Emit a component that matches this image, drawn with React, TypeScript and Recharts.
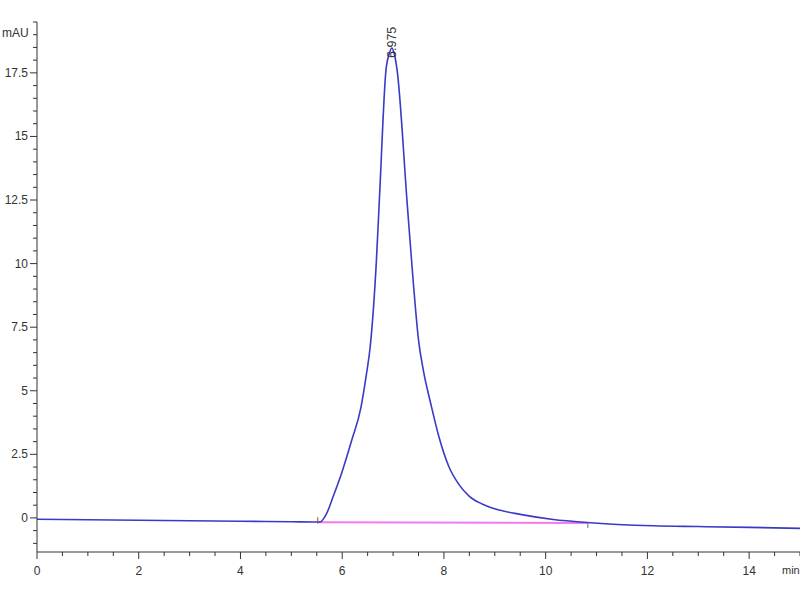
import React from "react";
import { LineChart, Line, XAxis, YAxis, ReferenceLine, ReferenceDot } from "recharts";

// Retention time (min) and absorbance (mAU)
const times = [
  0, 1, 2, 3, 4, 5, 5.5, 5.56, 5.7, 5.82, 5.99, 6.19, 6.37, 6.48, 6.55, 6.67, 6.74, 6.86, 6.93,
  6.975, 7.02, 7.08, 7.28, 7.4, 7.5, 7.6, 7.74, 7.9, 8.1, 8.3, 8.5, 8.75, 9.0, 9.5, 10.15, 10.81,
  12.11, 13, 14, 15,
];
const signal = [
  -0.05, -0.07, -0.09, -0.11, -0.13, -0.15, -0.16, -0.16, 0.2, 0.83, 1.77, 3.07, 4.36, 5.7, 6.72,
  10.03, 12.9, 17.6, 18.28, 18.48, 18.28, 17.6, 12.3, 9.2, 7.0, 5.75, 4.5, 3.2, 2.0, 1.3, 0.85,
  0.55, 0.36, 0.14, -0.06, -0.18, -0.31, -0.34, -0.37, -0.41,
];

// Integration baseline (start / end of the peak)
const baselineStart = { t: 5.52, v: -0.17 };
const baselineEnd = { t: 10.83, v: -0.2 };

const peakTime = 6.975;
const peakHeight = 18.48;
const peakLabel = "6.975";

const xMajorTicks = [0, 2, 4, 6, 8, 10, 12, 14];
const yMajorTicks = [0, 2.5, 5, 7.5, 10, 12.5, 15, 17.5];
const xAllTicks = [
  0, 0.5, 1, 1.5, 2, 2.5, 3, 3.5, 4, 4.5, 5, 5.5, 6, 6.5, 7, 7.5, 8, 8.5, 9, 9.5, 10, 10.5, 11,
  11.5, 12, 12.5, 13, 13.5, 14, 14.5, 15,
];
const yAllTicks = [
  -1, -0.5, 0, 0.5, 1, 1.5, 2, 2.5, 3, 3.5, 4, 4.5, 5, 5.5, 6, 6.5, 7, 7.5, 8, 8.5, 9, 9.5, 10,
  10.5, 11, 11.5, 12, 12.5, 13, 13.5, 14, 14.5, 15, 15.5, 16, 16.5, 17, 17.5, 18, 18.5, 19, 19.5,
];

const data = times.map((t, i) => ({ t, v: signal[i] }));

const FONT = "'Liberation Sans', Arial, sans-serif";
const AXIS = "#333";
const TEXT = "#333";

const isIn = (arr: number[], v: number) => arr.some((a) => Math.abs(a - v) < 1e-6);

const YTick = (props: any) => {
  const { x, y, payload } = props;
  const v = payload.value;
  const major = isIn(yMajorTicks, v);
  return (
    <g>
      <line x1={x - (major ? 7 : 4)} x2={x} y1={y} y2={y} stroke={AXIS} strokeWidth={1} />
      {major && (
        <text x={x - 9} y={y} dy={4} textAnchor="end" fontSize={12} fill={TEXT} fontFamily={FONT}>
          {String(v)}
        </text>
      )}
    </g>
  );
};

const XTick = (props: any) => {
  const { x, y, payload } = props;
  const v = payload.value;
  const major = isIn(xMajorTicks, v);
  return (
    <g>
      <line x1={x} x2={x} y1={y} y2={y + (major ? 7 : 4)} stroke={AXIS} strokeWidth={1} />
      {major && (
        <text x={x} y={y + 23} textAnchor="middle" fontSize={12} fill={TEXT} fontFamily={FONT}>
          {String(v)}
        </text>
      )}
    </g>
  );
};

const PeakLabel = (props: any) => {
  const { cx, cy } = props;
  const px = cx + 4;
  const py = cy + 10;
  return (
    <text
      x={px}
      y={py}
      transform={`rotate(-90 ${px} ${py})`}
      textAnchor="start"
      fontSize={12.5}
      fill="#333"
      fontFamily={FONT}
    >
      {peakLabel}
    </text>
  );
};

export default function App() {
  return (
    <div style={{ position: "absolute", left: 0, top: 0, width: 800, height: 600, background: "#fff" }}>
      <LineChart
        width={800}
        height={600}
        data={data}
        margin={{ top: 22, right: 0, bottom: 18, left: 0 }}
      >
        <XAxis
          dataKey="t"
          type="number"
          domain={[0, 15]}
          ticks={xAllTicks}
          interval={0}
          tickSize={0}
          tickMargin={0}
          tickLine={false}
          tick={<XTick />}
          height={30}
          allowDataOverflow
          axisLine={{ stroke: AXIS, strokeWidth: 1 }}
        />
        <YAxis
          type="number"
          domain={[-1.34, 19.5]}
          ticks={yAllTicks}
          interval={0}
          tickSize={0}
          tickMargin={0}
          tickLine={false}
          tick={<YTick />}
          width={37}
          allowDataOverflow
          axisLine={{ stroke: AXIS, strokeWidth: 1 }}
        />
        <ReferenceLine
          segment={[
            { x: baselineStart.t, y: baselineStart.v },
            { x: baselineEnd.t, y: baselineEnd.v },
          ]}
          stroke="#f07af0"
          strokeWidth={2}
        />
        <Line
          dataKey="v"
          type="monotone"
          stroke="#3a3ac8"
          strokeWidth={1.6}
          dot={false}
          isAnimationActive={false}
        />
        <ReferenceLine
          segment={[
            { x: baselineStart.t, y: baselineStart.v - 0.05 },
            { x: baselineStart.t, y: baselineStart.v + 0.2 },
          ]}
          stroke="#8a5a3a"
          strokeWidth={1}
        />
        <ReferenceLine
          segment={[
            { x: baselineEnd.t, y: baselineEnd.v - 0.2 },
            { x: baselineEnd.t, y: baselineEnd.v + 0.05 },
          ]}
          stroke="#6a6a6a"
          strokeWidth={1}
        />
        <ReferenceDot x={peakTime} y={peakHeight} r={0} shape={<PeakLabel />} />
      </LineChart>
      <span
        style={{
          position: "absolute",
          left: 2,
          top: 26,
          fontSize: 12,
          fontFamily: FONT,
          color: TEXT,
          lineHeight: "14px",
        }}
      >
        mAU
      </span>
      <span
        style={{
          position: "absolute",
          left: 782,
          top: 563,
          fontSize: 11,
          fontFamily: FONT,
          color: TEXT,
          lineHeight: "14px",
          whiteSpace: "nowrap",
        }}
      >
        min
      </span>
    </div>
  );
}
